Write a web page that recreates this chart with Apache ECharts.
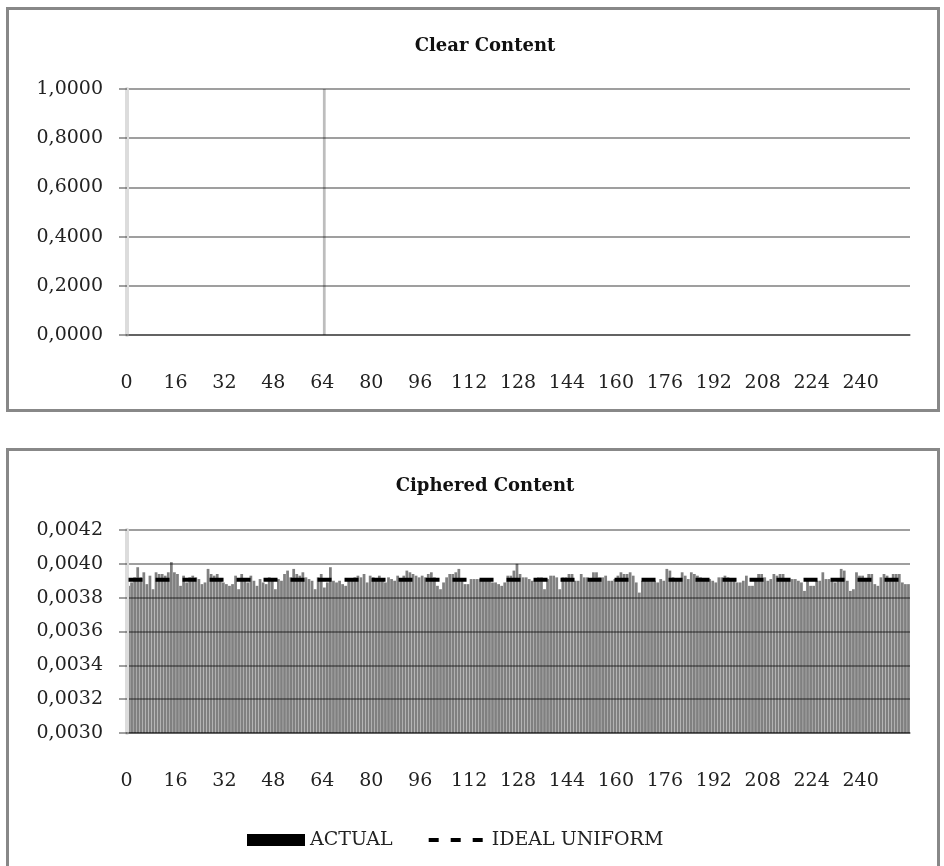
<!DOCTYPE html>
<html>
<head>
<meta charset="utf-8">
<script src="https://cdn.jsdelivr.net/npm/echarts@6/dist/echarts.min.js"></script>
<style>
  html, body { margin: 0; padding: 0; background: #fff; }
  #main { width: 944px; height: 866px; }
</style>
</head>
<body>
<div id="main"></div>
<script>
// byte values 0..255 on the x axis
var byteValues = [];
for (var b = 0; b < 256; b++) byteValues.push(String(b));

// clear content: only one byte value occurs
var clearBytes = ['64'];
var clearFreq = [1.0];

// ciphered content frequencies
var cipheredFreq = [
  0.00387, 0.00389, 0.00392, 0.00398, 0.00392, 0.00395, 0.00388, 0.00393, 0.00385, 0.00395,
  0.00394, 0.00394, 0.00393, 0.00395, 0.00401, 0.00395, 0.00394, 0.00387, 0.00393, 0.00389,
  0.00392, 0.00393, 0.00392, 0.00391, 0.00388, 0.00389, 0.00397, 0.00394, 0.00393, 0.00394,
  0.00391, 0.00389, 0.00388, 0.00387, 0.00388, 0.00393, 0.00385, 0.00394, 0.00390, 0.00389,
  0.00393, 0.00390, 0.00387, 0.00391, 0.00389, 0.00388, 0.00392, 0.00390, 0.00385, 0.00391,
  0.00390, 0.00394, 0.00396, 0.00392, 0.00397, 0.00394, 0.00393, 0.00395, 0.00392, 0.00391,
  0.00390, 0.00385, 0.00392, 0.00394, 0.00386, 0.00389, 0.00398, 0.00390, 0.00389, 0.00390,
  0.00388, 0.00387, 0.00390, 0.00391, 0.00392, 0.00393, 0.00392, 0.00394, 0.00389, 0.00393,
  0.00392, 0.00391, 0.00393, 0.00390, 0.00389, 0.00392, 0.00391, 0.00390, 0.00393, 0.00391,
  0.00393, 0.00396, 0.00395, 0.00394, 0.00393, 0.00392, 0.00393, 0.00392, 0.00394, 0.00395,
  0.00392, 0.00387, 0.00385, 0.00389, 0.00392, 0.00394, 0.00394, 0.00395, 0.00397, 0.00391,
  0.00388, 0.00388,
  0.00391, 0.00391, 0.00391, 0.00391, 0.00391, 0.00390, 0.00390, 0.00389, 0.00389, 0.00388,
  0.00387, 0.00389, 0.00393, 0.00393, 0.00396, 0.00400, 0.00394, 0.00392, 0.00392, 0.00391,
  0.00390, 0.00390, 0.00392, 0.00392, 0.00385, 0.00391, 0.00393, 0.00393, 0.00392, 0.00385,
  0.00392, 0.00392, 0.00394, 0.00394, 0.00390, 0.00390, 0.00394, 0.00392, 0.00392, 0.00391,
  0.00395, 0.00395, 0.00392, 0.00392, 0.00393, 0.00390, 0.00390, 0.00391,
  0.00393, 0.00395, 0.00394, 0.00394, 0.00395, 0.00393, 0.00389, 0.00383, 0.00390, 0.00390,
  0.00391, 0.00390, 0.00390, 0.00389, 0.00391, 0.00390, 0.00397, 0.00396, 0.00392, 0.00391,
  0.00390, 0.00395, 0.00393, 0.00391, 0.00395, 0.00394, 0.00393, 0.00392, 0.00390, 0.00391,
  0.00391, 0.00390, 0.00389, 0.00392, 0.00392, 0.00393, 0.00392, 0.00391, 0.00391, 0.00389,
  0.00389, 0.00390, 0.00393, 0.00387, 0.00387, 0.00390, 0.00394, 0.00394, 0.00392, 0.00390,
  0.00391, 0.00394, 0.00393, 0.00394, 0.00394, 0.00391, 0.00391, 0.00391, 0.00391, 0.00390,
  0.00389, 0.00384, 0.00390, 0.00387, 0.00387, 0.00390, 0.00390, 0.00395, 0.00391, 0.00391,
  0.00390, 0.00389, 0.00390, 0.00397, 0.00396, 0.00390, 0.00384, 0.00385, 0.00395, 0.00393,
  0.00393, 0.00390, 0.00394, 0.00394, 0.00388, 0.00387, 0.00392, 0.00394, 0.00393, 0.00391,
  0.00394, 0.00394, 0.00394, 0.00389, 0.00388, 0.00388
];

// 1/256
var idealValue = 0.00390625;

var titles = ['Clear Content', 'Ciphered Content'];
var legendNames = ['ACTUAL', 'IDEAL UNIFORM'];

var font = 'DejaVu Serif';
var gridColor = 'rgba(0,0,0,0.5)';

function fmt(v) {
  return v.toFixed(4).replace('.', ',');
}

function xAxisFor(idx) {
  return {
    type: 'category',
    gridIndex: idx,
    data: byteValues,
    boundaryGap: true,
    z: 3,
    axisLine: { lineStyle: { color: gridColor, width: 1.5 } },
    axisTick: { interval: 15, length: 7, lineStyle: { color: '#d6d6d6', width: 3 } },
    axisLabel: {
      interval: 15, margin: 38, color: '#222', fontFamily: font, fontSize: 19,
      lineHeight: 20, padding: [0, 4, 0, 0]
    },
    splitLine: { show: false }
  };
}

function yAxisFor(idx, min, max, step) {
  return {
    type: 'value',
    gridIndex: idx,
    min: min, max: max, interval: step,
    z: 3,
    axisLine: { show: true, lineStyle: { color: '#dcdcdc', width: 4 } },
    axisTick: { show: true, length: 8, lineStyle: { color: gridColor, width: 1.5 } },
    axisLabel: { margin: 24, color: '#222', fontFamily: font, fontSize: 19, formatter: fmt },
    splitLine: { lineStyle: { color: gridColor, width: 1.5 } }
  };
}

var myChart = echarts.init(document.getElementById('main'));

var option = {
  animation: false,
  backgroundColor: '#fff',
  title: [{
    text: titles[0], left: 480, top: 31, textAlign: 'center',
    textStyle: { fontFamily: font, fontSize: 18, fontWeight: 'bold', color: '#111', lineHeight: 20 }
  }, {
    text: titles[1], left: 480, top: 471, textAlign: 'center',
    textStyle: { fontFamily: font, fontSize: 18, fontWeight: 'bold', color: '#111', lineHeight: 20 }
  }],
  graphic: [{
    type: 'rect', shape: { x: 7.5, y: 8.5, width: 931, height: 402 },
    style: { fill: 'none', stroke: '#888', lineWidth: 3 }, z: 0
  }, {
    type: 'rect', shape: { x: 7.5, y: 449.5, width: 931, height: 460 },
    style: { fill: 'none', stroke: '#888', lineWidth: 3 }, z: 0
  }],
  legend: {
    left: 242, top: 825,
    itemWidth: 58, itemHeight: 12, itemGap: 34,
    textStyle: { fontFamily: font, fontSize: 19, color: '#222', lineHeight: 20 },
    data: [
      { name: legendNames[0], icon: 'rect', itemStyle: { color: '#000' } },
      {
        name: legendNames[1],
        itemStyle: { color: '#000', opacity: 0 },
        lineStyle: { type: [10, 12], width: 4, color: '#000' }
      }
    ]
  },
  grid: [
    { left: 127, right: 34, top: 89, bottom: 866 - 335 },
    { left: 127, right: 34, top: 530, bottom: 866 - 733 }
  ],
  xAxis: [xAxisFor(0), xAxisFor(1)],
  yAxis: [yAxisFor(0, 0, 1, 0.2), yAxisFor(1, 0.003, 0.0042, 0.0002)],
  series: [{
    name: 'clear',
    type: 'bar',
    xAxisIndex: 0, yAxisIndex: 0,
    barCategoryGap: '10%',
    itemStyle: { color: '#bdbdbd' },
    data: clearBytes.map(function (b, i) { return [b, clearFreq[i]]; })
  }, {
    name: legendNames[0],
    type: 'bar',
    xAxisIndex: 1, yAxisIndex: 1,
    barCategoryGap: '10%',
    itemStyle: { color: '#808080' },
    data: cipheredFreq
  }, {
    name: legendNames[1],
    type: 'line',
    xAxisIndex: 1, yAxisIndex: 1,
    symbol: 'none',
    z: 4,
    itemStyle: { color: '#000' },
    lineStyle: { color: '#000', width: 4, type: [14, 13] },
    data: byteValues.map(function () { return idealValue; })
  }]
};

myChart.setOption(option);
</script>
</body>
</html>
